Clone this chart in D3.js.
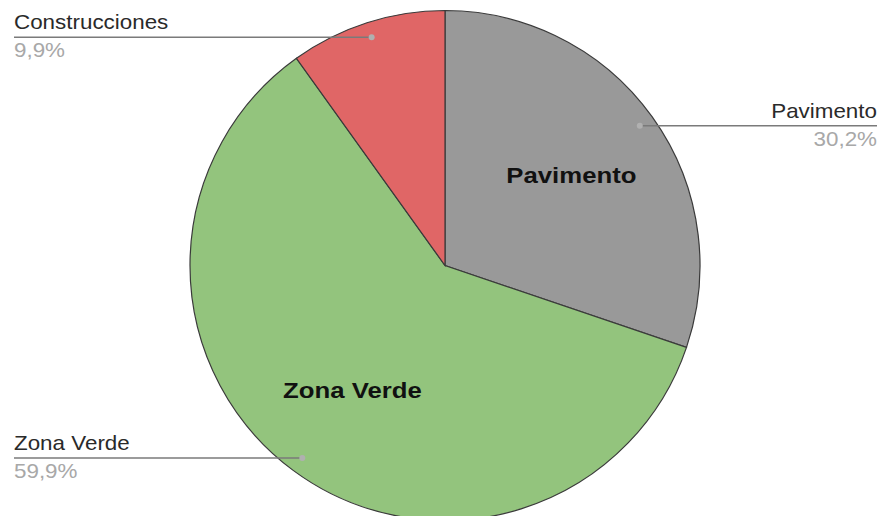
<!DOCTYPE html>
<html>
<head>
<meta charset="utf-8">
<script src="https://cdn.jsdelivr.net/npm/d3@7"></script>
<style>
  body { margin: 0; background: #fff; }
  svg text { font-family: "Liberation Sans", Arial, sans-serif; }
</style>
</head>
<body>
<div id="chart"></div>
<script>
// Data
let categories = ["Pavimento", "Zona Verde", "Construcciones"];
let values = [30.2, 59.9, 9.9];
let pctLabels = ["30,2%", "59,9%", "9,9%"];
let colors = ["#999999", "#93c47d", "#e06666"];

let width = 881, height = 516;
let cx = 445, cy = 265.5, radius = 255;
let stretch = 1.12; // text in the picture is a bit wide

let svg = d3.select("#chart")
  .append("svg")
  .attr("width", width)
  .attr("height", height);

let g = svg.append("g")
  .attr("transform", "translate(" + cx + "," + cy + ")");

let data = categories.map((c, i) => ({name: c, value: values[i], pct: pctLabels[i], color: colors[i]}));

let pie = d3.pie().sort(null).value(d => d.value);
let arcs = pie(data);

let arc = d3.arc().innerRadius(0).outerRadius(radius);
let dotArc = d3.arc().innerRadius(radius * 0.94).outerRadius(radius * 0.94);
let innerArc = d3.arc().innerRadius(radius * 0.61).outerRadius(radius * 0.61);

g.selectAll("path.slice")
  .data(arcs)
  .enter()
  .append("path")
  .attr("class", "slice")
  .attr("d", arc)
  .attr("fill", d => d.data.color)
  .attr("stroke", "#3a3a3a")
  .attr("stroke-width", 1.2);

let put = (x, y) => "translate(" + x + "," + y + ") scale(" + stretch + ",1)";

// inner bold labels (only the big slices)
g.selectAll("text.inner")
  .data(arcs.filter(d => d.data.value > 20))
  .enter()
  .append("text")
  .attr("class", "inner")
  .attr("transform", d => put(innerArc.centroid(d)[0], innerArc.centroid(d)[1] + 8))
  .attr("text-anchor", "middle")
  .attr("font-size", 23)
  .attr("font-weight", "bold")
  .attr("fill", "#111")
  .text(d => d.data.name);

// outside labels with leader lines
let leftX = 14 - cx, rightX = 877 - cx;
arcs.forEach(d => {
  let p = dotArc.centroid(d);
  let right = p[0] > 0;
  let endX = right ? rightX : leftX;
  g.append("line")
    .attr("x1", p[0]).attr("y1", p[1])
    .attr("x2", endX).attr("y2", p[1])
    .attr("stroke", "#7a7a7a")
    .attr("stroke-width", 1.5);
  g.append("circle")
    .attr("cx", p[0]).attr("cy", p[1])
    .attr("r", 3)
    .attr("fill", "#b0b0b0");
  g.append("text")
    .attr("transform", put(endX, p[1] - 8))
    .attr("text-anchor", right ? "end" : "start")
    .attr("font-size", 20)
    .attr("fill", "#2a2a2a")
    .text(d.data.name);
  g.append("text")
    .attr("transform", put(endX, p[1] + 20))
    .attr("text-anchor", right ? "end" : "start")
    .attr("font-size", 20)
    .attr("fill", "#a8a8a8")
    .text(d.data.pct);
});
</script>
</body>
</html>
